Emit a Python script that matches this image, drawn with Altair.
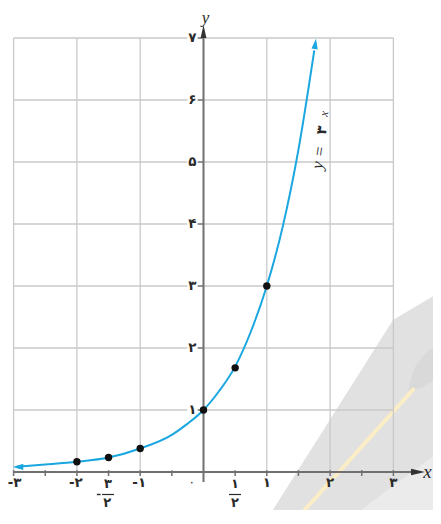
import altair as alt
import pandas as pd

# ---------------- data ----------------
curve_x = [-2.95, -2.5, -2.0, -1.5, -1.0, -0.5, -0.25, 0.0, 0.25, 0.5, 0.75, 1.0, 1.25, 1.5, 1.75]
curve_y = [0.085, 0.12, 0.165, 0.235, 0.38, 0.60, 0.78, 1.0, 1.31, 1.70, 2.27, 3.0, 3.95, 5.2, 6.8]

pts_x = [-2, -1.5, -1, 0, 0.5, 1]
pts_y = [0.165, 0.235, 0.38, 1.0, 1.68, 3.0]

grid_x = [-3, -2, -1, 1, 2, 3]
grid_y = [1, 2, 3, 4, 5, 6, 7]
minor_ticks = [-3, -2.5, -2, -1.5, -1, -0.5, 0.5, 1, 1.5, 2, 2.5, 3]

xlab_neg = ["-۲", "-۱"]
xlab_neg_at = [-2, -1]
xlab_pos = ["۱", "۲", "۳"]
xlab_pos_at = [1, 2, 3]
ylab = ["۱", "۲", "۳", "۴", "۵", "۶", "۷"]
ylab_at = [1, 2, 3, 4, 5, 6, 7]

# ---------------- scales ----------------
W, H = 425, 502
XMAX = 3.6256
YMIN = -0.613
XS = alt.Scale(domain=[-3.0885, XMAX], nice=False, zero=False)
YS = alt.Scale(domain=[YMIN, 7.484], nice=False, zero=False)


def ex(f="x"):
    return alt.X(f"{f}:Q", scale=XS, axis=None)


def ey(f="y"):
    return alt.Y(f"{f}:Q", scale=YS, axis=None)


def df(**k):
    return pd.DataFrame(k)


AX = "#707070"
GRID = "#c9c9c9"
CURVE = "#1aa6e0"
TXT = "#2a2a2a"
FONT = "DejaVu Sans"
SERIF = "Liberation Serif"

layers = []

# ---------------- background decoration ----------------
layers.append(alt.Chart(df(x=[1.095, 2.994, XMAX], y=[YMIN, 2.452, 2.834], y2=[YMIN] * 3))
              .mark_area(color="#e1e1e1", opacity=1)
              .encode(x=ex(), y=ey(), y2="y2:Q"))
layers.append(alt.Chart(df(x=[2.487, XMAX], y=[YMIN, 0.255], y2=[YMIN] * 2))
              .mark_area(color="#ebebeb", opacity=1)
              .encode(x=ex(), y=ey(), y2="y2:Q"))
layers.append(alt.Chart(df(x=[3.231, 3.31, 3.42, 3.55, XMAX],
                           y=[1.30, 1.62, 1.80, 1.95, 2.00],
                           y2=[1.30, 1.33, 1.35, 1.43, 1.47]))
              .mark_area(color="#d9d9d9", opacity=1, interpolate="monotone")
              .encode(x=ex(), y=ey(), y2="y2:Q"))
layers.append(alt.Chart(df(x=[3.31], y=[1.33], x2=[1.597], y2=[YMIN]))
              .mark_rule(color="#fbedc6", strokeWidth=4, strokeCap="round")
              .encode(x=ex(), y=ey(), x2="x2:Q", y2="y2:Q"))

# ---------------- grid ----------------
layers.append(alt.Chart(df(x=grid_x, y=[0] * len(grid_x), y2=[7] * len(grid_x)))
              .mark_rule(color=GRID, strokeWidth=1.3)
              .encode(x=ex(), y=ey(), y2="y2:Q"))
layers.append(alt.Chart(df(y=grid_y, x=[-3] * len(grid_y), x2=[3] * len(grid_y)))
              .mark_rule(color=GRID, strokeWidth=1.3)
              .encode(y=ey(), x=ex(), x2="x2:Q"))
# white gaps behind the y labels
layers.append(alt.Chart(df(y=grid_y, x=[-0.255] * len(grid_y), x2=[-0.095] * len(grid_y)))
              .mark_rule(color="white", strokeWidth=4)
              .encode(y=ey(), x=ex(), x2="x2:Q"))

# ---------------- axes ----------------
layers.append(alt.Chart(df(x=[-3], x2=[3.33], y=[0]))
              .mark_rule(color=AX, strokeWidth=2)
              .encode(x=ex(), x2="x2:Q", y=ey()))
layers.append(alt.Chart(df(x=[0], y=[-0.161], y2=[7.03]))
              .mark_rule(color=AX, strokeWidth=2)
              .encode(x=ex(), y=ey(), y2="y2:Q"))
layers.append(alt.Chart(df(x=minor_ticks, y=[0.03] * len(minor_ticks), y2=[-0.065] * len(minor_ticks)))
              .mark_rule(color=AX, strokeWidth=1.5)
              .encode(x=ex(), y=ey(), y2="y2:Q"))
layers.append(alt.Chart(df(y=grid_y, x=[-0.09] * len(grid_y), x2=[0] * len(grid_y)))
              .mark_rule(color=AX, strokeWidth=1.3)
              .encode(y=ey(), x=ex(), x2="x2:Q"))

ARROW = "M -1 -0.45 L 1 0 L -1 0.45 Z"
layers.append(alt.Chart(df(x=[3.389], y=[0.0]))
              .mark_point(shape=ARROW, filled=True, color="#333333", opacity=1, size=196, angle=0)
              .encode(x=ex(), y=ey()))
layers.append(alt.Chart(df(x=[0.0], y=[7.105]))
              .mark_point(shape=ARROW, filled=True, color="#333333", opacity=1, size=169, angle=270)
              .encode(x=ex(), y=ey()))

# ---------------- curve ----------------
layers.append(alt.Chart(df(x=curve_x, y=curve_y))
              .mark_line(color=CURVE, strokeWidth=2, interpolate="monotone")
              .encode(x=ex(), y=ey()))
CARROW = "M -1 -0.6 L 1 0 L -1 0.6 Z"
layers.append(alt.Chart(df(x=[-2.93], y=[0.082]))
              .mark_point(shape=CARROW, filled=True, color=CURVE, opacity=1, size=110, angle=180)
              .encode(x=ex(), y=ey()))
layers.append(alt.Chart(df(x=[1.766], y=[6.906]))
              .mark_point(shape=CARROW, filled=True, color=CURVE, opacity=1, size=110, angle=277.5)
              .encode(x=ex(), y=ey()))

layers.append(alt.Chart(df(x=pts_x, y=pts_y))
              .mark_circle(color="#111111", opacity=1, size=55)
              .encode(x=ex(), y=ey()))


# ---------------- tick labels ----------------
def txt(xs, ys, ts, **kw):
    base = dict(font=FONT, fontSize=13.5, fontWeight="bold", color=TXT, baseline="middle", align="center")
    base.update(kw)
    return (alt.Chart(df(x=xs, y=ys, t=ts)).mark_text(**base)
            .encode(x=ex(), y=ey(), text="t:N"))


layers.append(txt(xlab_neg_at, [-0.177] * 2, xlab_neg, dx=-1))
layers.append(txt([-3], [-0.177], ["-۳"], dx=1))
layers.append(txt(xlab_pos_at, [-0.177] * 3, xlab_pos))
layers.append(txt([-0.186], [-0.161], ["۰"], fontSize=12, fontWeight="normal"))
layers.append(txt([0] * 7, ylab_at, ylab, align="right", dx=-7))

# fractions  -3/2  and  1/2
layers.append(txt([-1.509, -1.52], [-0.2016, -0.50], ["۳", "۲"], fontSize=13))
layers.append(txt([0.4976, 0.4976], [-0.2016, -0.50], ["۱", "۲"], fontSize=13))
layers.append(alt.Chart(df(x=[-1.603, 0.403], x2=[-1.414, 0.592], y=[-0.363, -0.363]))
              .mark_rule(color=TXT, strokeWidth=1.2)
              .encode(x=ex(), x2="x2:Q", y=ey()))
layers.append(alt.Chart(df(x=[-1.685], x2=[-1.625], y=[-0.363]))
              .mark_rule(color=TXT, strokeWidth=1.4)
              .encode(x=ex(), x2="x2:Q", y=ey()))

# axis names
layers.append(txt([3.54], [0.0], ["x"], font=SERIF, fontStyle="italic", fontWeight="normal", fontSize=19))
layers.append(txt([0.03], [7.33], ["y"], font=SERIF, fontStyle="italic", fontWeight="normal", fontSize=17))

# curve label y = 3^x
layers.append(txt([1.825], [5.074], ["y ="], font=SERIF, fontStyle="italic", fontWeight="normal",
                  fontSize=17, angle=279))
layers.append(txt([1.880], [5.509], ["۳"], fontSize=14, angle=279))
layers.append(txt([1.905], [5.78], ["x"], font=SERIF, fontStyle="italic", fontWeight="normal",
                  fontSize=12, angle=279))

chart = (alt.layer(*layers)
         .properties(width=W, height=H, padding=0, autosize=alt.AutoSizeParams(type="none"))
         .configure_view(stroke=None))

chart.save("out.html", embed_options={"renderer": "svg", "actions": False})
